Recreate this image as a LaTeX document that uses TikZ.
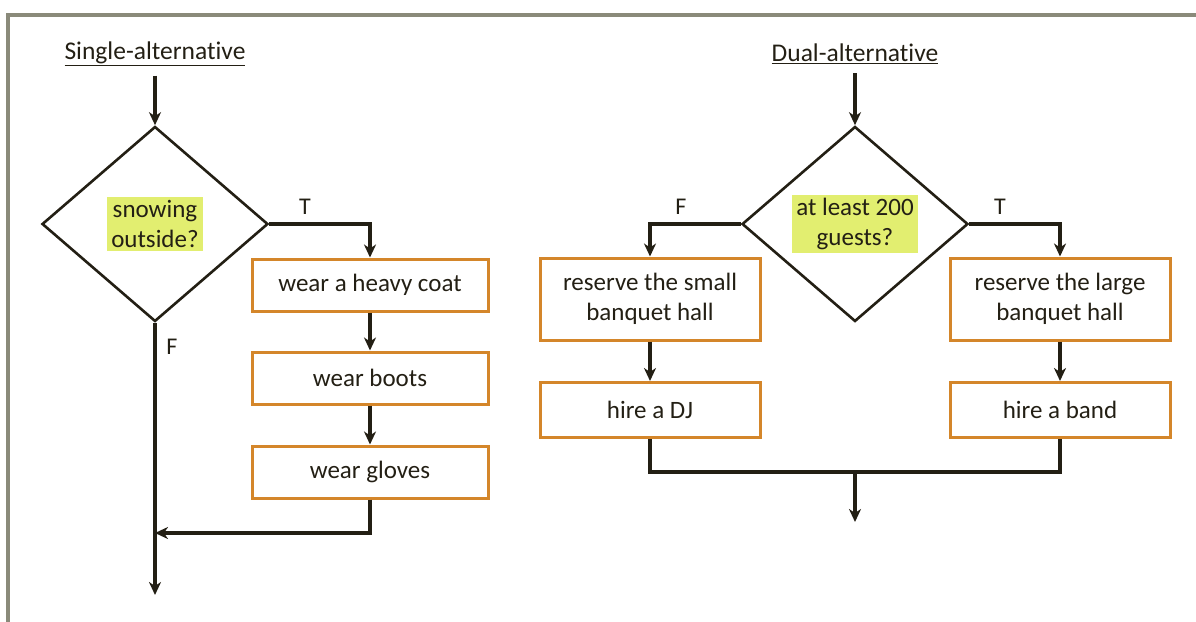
\documentclass[tikz,border=0pt]{standalone}
\usepackage{fontspec}
\setmainfont[Ligatures=NoCommon]{Carlito}
\usetikzlibrary{arrows.meta,positioning,shapes.geometric}
\definecolor{ink}{HTML}{231F14}
\definecolor{rim}{HTML}{8A8A7A}
\definecolor{ochre}{HTML}{D4862A}
\definecolor{lime}{HTML}{E2EE70}
\tikzset{
  decision/.style={diamond, draw=ink, line width=2.6pt, minimum width=226pt, minimum height=195pt, inner sep=0pt},
  hl/.style={fill=lime, text=ink, align=center, inner xsep=4pt, inner ysep=3pt, font=\fontsize{25}{30}\selectfont},
  stepbox/.style={rectangle, draw=ochre, line width=3pt, text=ink, align=center,
                  minimum width=236pt, minimum height=52pt, font=\fontsize{25}{30}\selectfont},
  widebox/.style={stepbox, minimum width=220pt},
  title/.style={text=ink, font=\fontsize{25.5}{28}\selectfont},
  tf/.style={text=ink, font=\fontsize{24}{26}\selectfont},
  flow/.style={-{Stealth[length=13pt, width=12pt, inset=4pt]}, draw=ink, line width=3.2pt},
  line/.style={draw=ink, line width=3.2pt}
}
\begin{document}
\begin{tikzpicture}[x=1pt, y=-1pt]
  \useasboundingbox (0,0) rectangle (1196,621);
  \draw[rim, line width=4pt] (8,623) -- (8,15) -- (1198,15);
  % single-alternative
  \node[title] (t1) at (155,54) {\underline{Single-alternative}};
  \node[decision] (d1) at (155,224) {};
  \node[hl] (q1) at (d1) {snowing\\outside?};
  \node[stepbox] (coat) at (370,285) {wear a heavy coat};
  \node[stepbox] (boots) at (370,378) {wear boots};
  \node[stepbox] (gloves) at (370,472) {wear gloves};
  \node[tf] (t1T) at (305,207) {T};
  \node[tf] (t1F) at (172,347) {F};
  \coordinate (back) at (155,533);
  \coordinate (exit1) at (155,595);
  \draw[flow] ([yshift=-6pt]t1.south) -- (d1.north);
  \draw[flow] (d1.east) -| (coat.north);
  \draw[flow] (coat) -- (boots); \draw[flow] (boots) -- (gloves);
  \draw[flow] (gloves.south) |- (back);
  \draw[flow] (d1.south) -- (exit1);
  % dual-alternative
  \node[title] (t2) at (855,54) {\underline{Dual-alternative}};
  \node[decision] (d2) at (855,224) {};
  \node[hl] (q2) at (d2) {at least 200\\guests?};
  \node[widebox, minimum height=82pt] (small) at (650,299) {reserve the small\\banquet hall};
  \node[widebox, minimum height=82pt] (large) at (1060,299) {reserve the large\\banquet hall};
  \node[widebox, minimum height=55pt] (dj) at (650,410) {hire a DJ};
  \node[widebox, minimum height=55pt] (band) at (1060,410) {hire a band};
  \node[tf] (t2F) at (681,207) {F};
  \node[tf] (t2T) at (1000,207) {T};
  \coordinate (join) at (855,472);
  \coordinate (exit2) at (855,522);
  \draw[flow] ([yshift=-6pt]t2.south) -- (d2.north);
  \draw[flow] (d2.west) -| (small.north);
  \draw[flow] (d2.east) -| (large.north);
  \draw[flow] (small) -- (dj); \draw[flow] (large) -- (band);
  \draw[line] (dj.south) |- (join) -| (band.south);
  \draw[flow] (join) -- (exit2);
\end{tikzpicture}
\end{document}
